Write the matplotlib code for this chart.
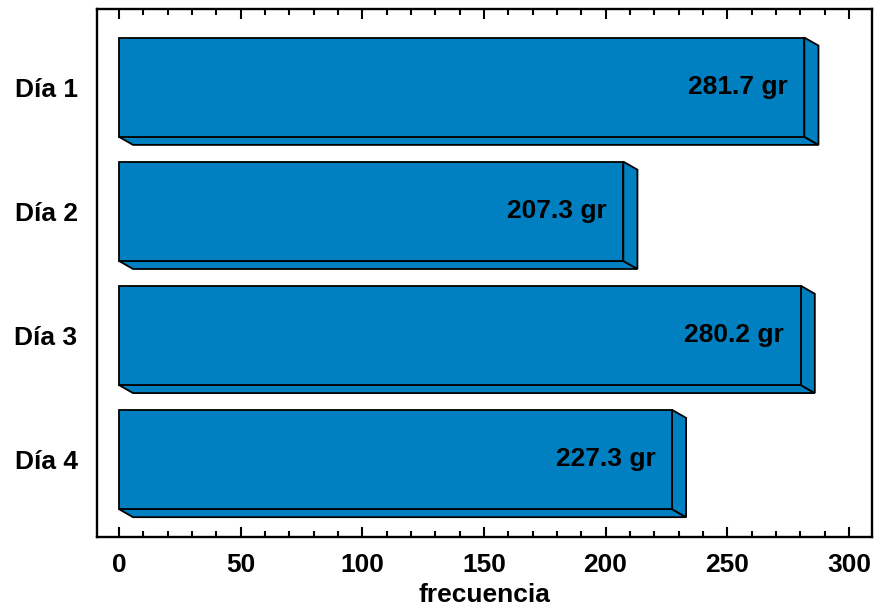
import matplotlib
matplotlib.use("Agg")
import matplotlib.pyplot as plt
from matplotlib.patches import Polygon, Rectangle
from matplotlib.ticker import MultipleLocator

plt.rcParams['font.family'] = ['Liberation Sans', 'DejaVu Sans']
plt.rcParams['font.weight'] = 'bold'

categories = ["Día 1", "Día 2", "Día 3", "Día 4"]
values = [281.7, 207.3, 280.2, 227.3]
value_labels = ["281.7 gr", "207.3 gr", "280.2 gr", "227.3 gr"]
x_ticks = [0, 50, 100, 150, 200, 250, 300]

bar_color = "#0080c0"
bar_h = 0.8
depth_x = 5.8     # extrusion along x, data units
depth_y = 0.065   # extrusion along y, data units

fig = plt.figure(figsize=(8.77, 6.12), dpi=100)
ax = fig.add_axes([0.1106, 0.1225, 0.8837, 0.8628])

for i, v in enumerate(values):
    top = i - bar_h / 2
    bot = i + bar_h / 2
    # bottom face
    ax.add_patch(Polygon([(0, bot), (v, bot), (v + depth_x, bot + depth_y),
                          (depth_x, bot + depth_y)], closed=True,
                         facecolor=bar_color, edgecolor='black', lw=1.3, zorder=2))
    # right face
    ax.add_patch(Polygon([(v, top), (v + depth_x, top + depth_y),
                          (v + depth_x, bot + depth_y), (v, bot)], closed=True,
                         facecolor=bar_color, edgecolor='black', lw=1.3, zorder=2))
    # front face
    ax.add_patch(Rectangle((0, top), v, bar_h, facecolor=bar_color,
                           edgecolor='black', lw=1.3, zorder=3))
    ax.annotate(value_labels[i], xy=(v, i), xytext=(-12, 0),
                textcoords='offset points', ha='right', va='center',
                fontsize=19, fontweight='bold', zorder=4)

ax.set_xlim(-9, 309.5)
ax.set_ylim(3.625, -0.63)
ax.set_xticks(x_ticks)
ax.xaxis.set_minor_locator(MultipleLocator(10))
ax.set_yticks(range(len(categories)))
ax.set_yticklabels(categories)

ax.tick_params(axis='x', which='major', direction='in', top=True, bottom=True,
               length=7.5, width=1.5, labelsize=19, pad=11.5)
ax.tick_params(axis='x', which='minor', direction='in', top=True, bottom=True,
               length=4, width=1.5)
ax.tick_params(axis='y', length=0, labelsize=19, pad=14)
for lab in ax.get_xticklabels() + ax.get_yticklabels():
    lab.set_fontweight('bold')

for sp in ax.spines.values():
    sp.set_linewidth(1.7)

ax.set_xlabel("frecuencia", fontsize=19, fontweight='bold', labelpad=4)

fig.savefig("out.png", dpi=100)
